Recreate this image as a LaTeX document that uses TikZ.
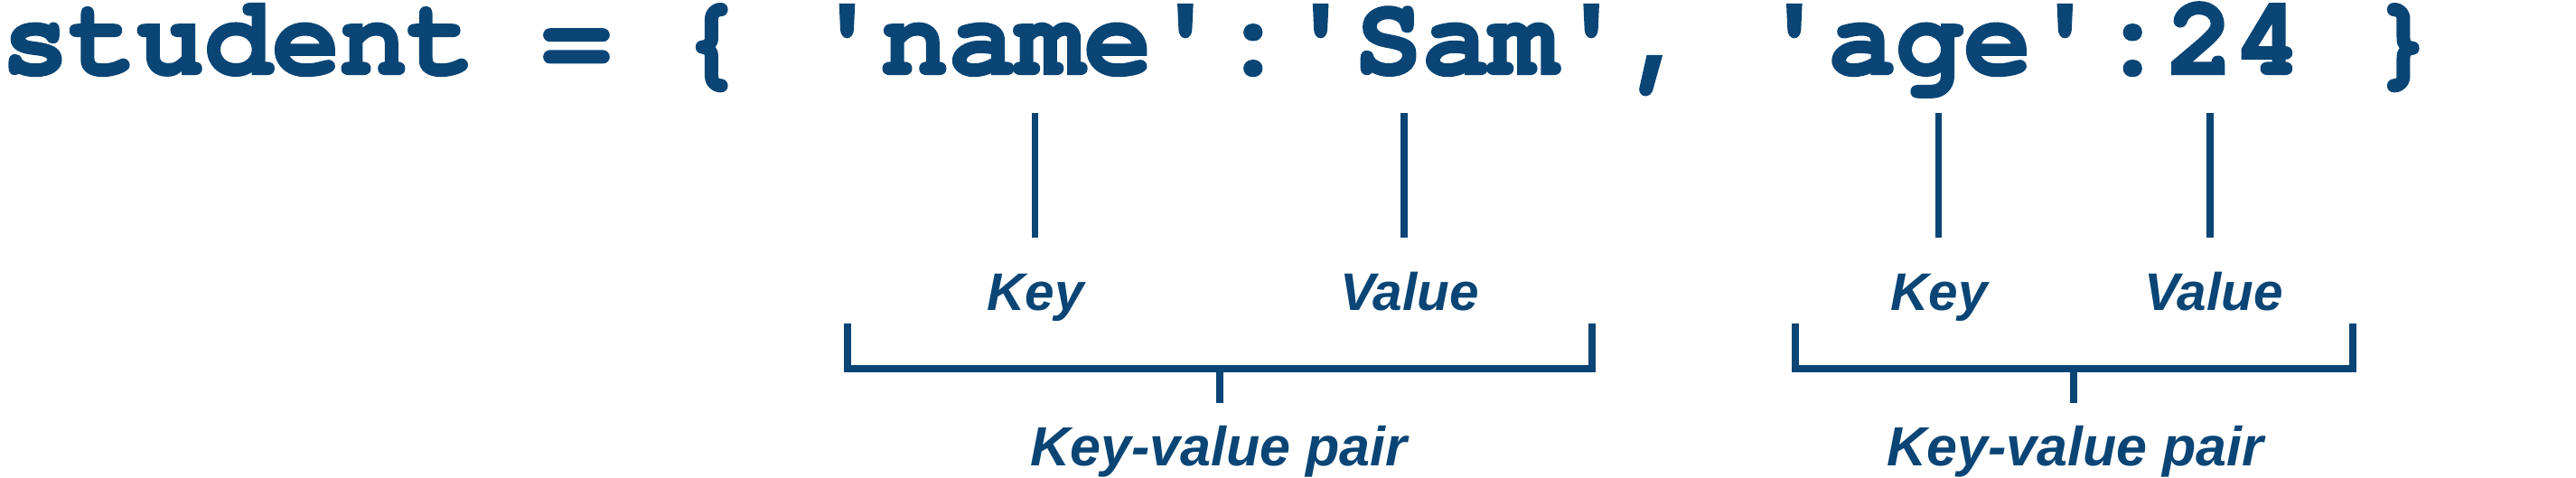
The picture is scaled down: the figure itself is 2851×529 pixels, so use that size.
\documentclass[tikz,border=0pt]{standalone}
\usepackage{fontspec}
\newfontfamily\codefont{texgyrecursor-bold.otf}[FakeBold=2]
\newfontfamily\lblfont{Liberation Sans Bold Italic}
\definecolor{navy}{RGB}{10,69,117}
\begin{document}
\begin{tikzpicture}[x=1pt,y=-1pt,
  codetext/.style={inner sep=0pt,outer sep=0pt,text=navy,font=\codefont\fontsize{124.8}{130}\selectfont},
  smalllbl/.style={inner sep=0pt,outer sep=0pt,text=navy,font=\lblfont\fontsize{58.5}{64}\selectfont},
  pairlbl/.style={inner sep=0pt,outer sep=0pt,text=navy,font=\lblfont\fontsize{61}{66}\selectfont},
  pointer/.style={draw=navy,line width=7.6pt},
  bracketline/.style={draw=navy,line width=8pt,miter limit=10}]
\useasboundingbox (0,0) rectangle (2851,529);
% code line
\node[codetext,anchor=base west] (code) at (1.5,82)
  {student = \{ \symbol{39}name\symbol{39}:\symbol{39}Sam\symbol{39}, \symbol{39}age\symbol{39}:24 \}};
% pointer coordinates
\coordinate (k1t) at (1145.5,125); \coordinate (k1b) at (1145.5,263);
\coordinate (v1t) at (1554,125);   \coordinate (v1b) at (1554,263);
\coordinate (k2t) at (2145.5,125); \coordinate (k2b) at (2145.5,263);
\coordinate (v2t) at (2446,125);   \coordinate (v2b) at (2446,263);
\draw[pointer] (k1t) -- (k1b);
\draw[pointer] (v1t) -- (v1b);
\draw[pointer] (k2t) -- (k2b);
\draw[pointer] (v2t) -- (v2b);
% labels
\node[smalllbl,anchor=base] (key1) at (1146,343) {Key};
\node[smalllbl,anchor=base] (val1) at (1560,343) {Value};
\node[smalllbl,anchor=base] (key2) at (2146,343) {Key};
\node[smalllbl,anchor=base] (val2) at (2450,343) {Value};
% brackets
\coordinate (b1l) at (937.5,358); \coordinate (b1r) at (1762,358);
\coordinate (b1m) at (1350,408);  \coordinate (b1s) at (1350,446);
\draw[bracketline] (b1l) -- (b1l |- b1m) -- (b1r |- b1m) -- (b1r);
\draw[bracketline] (b1m) -- (b1s);
\coordinate (b2l) at (1986.7,358); \coordinate (b2r) at (2603.5,358);
\coordinate (b2m) at (2295,408);   \coordinate (b2s) at (2295,446);
\draw[bracketline] (b2l) -- (b2l |- b2m) -- (b2r |- b2m) -- (b2r);
\draw[bracketline] (b2m) -- (b2s);
\node[pairlbl,anchor=base] (kvp1) at (1349,515) {Key-value pair};
\node[pairlbl,anchor=base] (kvp2) at (2297,515) {Key-value pair};
\end{tikzpicture}
\end{document}
